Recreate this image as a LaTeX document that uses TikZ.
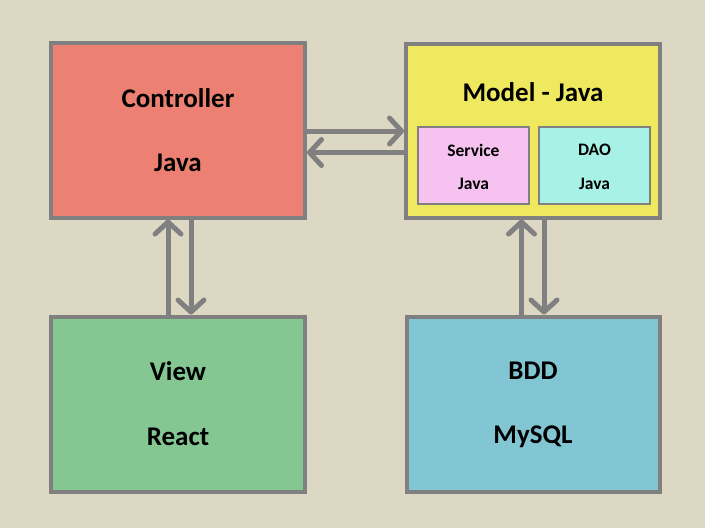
\documentclass[tikz,border=0pt]{standalone}
\usepackage{fontspec}
\setmainfont{Carlito}
\usetikzlibrary{arrows.meta}

\definecolor{bgcol}{RGB}{221,216,196}
\definecolor{framecol}{RGB}{128,128,128}
\definecolor{ctrlcol}{RGB}{236,128,114}
\definecolor{modelcol}{RGB}{239,233,96}
\definecolor{servcol}{RGB}{246,194,240}
\definecolor{daocol}{RGB}{167,241,230}
\definecolor{viewcol}{RGB}{132,199,147}
\definecolor{bddcol}{RGB}{130,198,212}

\tikzset{
  block/.style={draw=framecol, line width=4pt, minimum width=254pt, minimum height=175pt, inner sep=0pt},
  subblock/.style={draw=framecol, line width=2pt, minimum width=111pt, minimum height=77pt, inner sep=0pt},
  bigtext/.style={font=\fontsize{27}{32}\selectfont\bfseries},
  smalltext/.style={font=\fontsize{17.5}{21}\selectfont\bfseries},
  flow/.style={draw=framecol, line width=5pt, -{Straight Barb[round, length=12pt, width=26pt]}}
}

\begin{document}
\begin{tikzpicture}[x=1pt, y=-1pt]
    \fill[bgcol] (0,0) rectangle (705,528);
    \useasboundingbox (0,0) rectangle (705,528);

    \node [block, fill=ctrlcol] (ctrl) at (178,130) {};
    \node [block, fill=modelcol, minimum height=174pt] (model) at (533,130.5) {};
    \node [block, fill=viewcol] (view) at (178,404) {};
    \node [block, fill=bddcol, minimum width=253pt] (bdd) at (533.5,404) {};
    \node [subblock, fill=servcol] (serv) at (473.5,165.5) {};
    \node [subblock, fill=daocol] (dao) at (594.5,165.5) {};

    \node [bigtext] (ctrltop) at (178,98) {Controller};
    \node [bigtext] (ctrlbot) at (178,163) {Java};
    \node [bigtext] (modeltop) at (533,92) {Model - Java};
    \node [smalltext] (servtop) at (473.5,150) {Service};
    \node [smalltext] (servbot) at (473.5,184) {Java};
    \node [smalltext] (daotop) at (594.5,150) {DAO};
    \node [smalltext] (daobot) at (594.5,184) {Java};
    \node [bigtext] (viewtop) at (178,371) {View};
    \node [bigtext] (viewbot) at (178,437) {React};
    \node [bigtext] (bddtop) at (533,371) {BDD};
    \node [bigtext] (bddbot) at (533,437) {MySQL};

    \draw [flow] ([yshift=-1pt]ctrl.east) -- ([yshift=-1pt]ctrl.east -| model.west);
    \draw [flow] ([yshift=-22pt]model.west) -- ([yshift=-22pt]model.west -| ctrl.east);
    \draw [flow] ([xshift=-10pt]view.north) -- ([xshift=-10pt]view.north |- ctrl.south);
    \draw [flow] ([xshift=13pt]ctrl.south) -- ([xshift=13pt]ctrl.south |- view.north);
    \draw [flow] ([xshift=-12pt]bdd.north) -- ([xshift=-12pt]bdd.north |- model.south);
    \draw [flow] ([xshift=11pt]model.south) -- ([xshift=11pt]model.south |- bdd.north);
\end{tikzpicture}
\end{document}
